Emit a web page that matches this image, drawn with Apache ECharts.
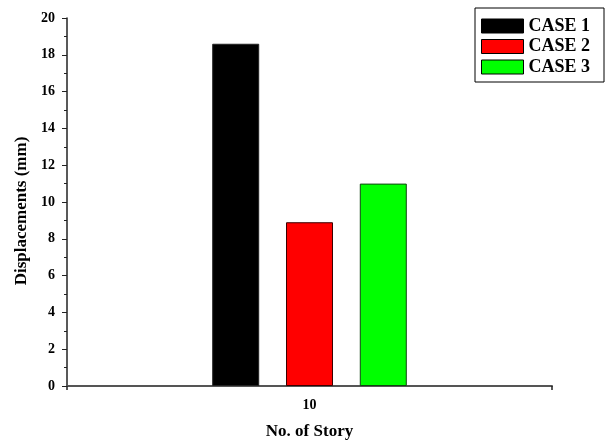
<!DOCTYPE html>
<html>
<head>
<meta charset="utf-8">
<script src="https://cdn.jsdelivr.net/npm/echarts@6/dist/echarts.min.js"></script>
<style>html,body{margin:0;padding:0;background:#fff}#c{width:607px;height:443px}</style>
</head>
<body>
<div id="c"></div>
<script>
const categories = ['10'];
const seriesNames = ['CASE 1', 'CASE 2', 'CASE 3'];
const case1 = [18.6];
const case2 = [8.9];
const case3 = [11.0];
const yTicks = [0, 2, 4, 6, 8, 10, 12, 14, 16, 18, 20];
const colors = ['#000000', '#ff0000', '#00ff00'];
const borders = ['#222222', '#3a0000', '#114411'];

const FONT = '"Times New Roman", "Liberation Serif", serif';
const chart = echarts.init(document.getElementById('c'), null, {renderer: 'canvas'});
const values = [case1, case2, case3];
chart.setOption({
  animation: false,
  backgroundColor: '#fff',
  grid: {left: 67, right: 55, top: 18, bottom: 57, containLabel: false, outerBoundsMode: 'none'},
  legend: {
    orient: 'vertical',
    left: 475, top: 8,
    padding: [9, 14, 6, 6],
    borderColor: '#000', borderWidth: 1,
    itemWidth: 42, itemHeight: 14, itemGap: 2.5, itemTextGap: 7,
    icon: 'rect',
    itemStyle: {borderColor: '#000', borderWidth: 1},
    textStyle: {fontFamily: FONT, fontWeight: 'bold', fontSize: 18, color: '#000'},
    data: seriesNames
  },
  xAxis: [{
    type: 'category',
    data: categories,
    name: 'No. of Story',
    nameLocation: 'middle',
    nameGap: 37,
    nameTextStyle: {fontFamily: FONT, fontWeight: 'bold', fontSize: 17, color: '#000'},
    axisLine: {lineStyle: {color: '#555', width: 2}},
    axisTick: {alignWithLabel: true, length: 5, lineStyle: {color: '#333', width: 1.5}},
    axisLabel: {fontFamily: FONT, fontWeight: 'bold', fontSize: 14, color: '#000', margin: 12},
    splitLine: {show: false}
  }, {
    type: 'category',
    data: categories,
    position: 'bottom',
    axisLine: {show: false},
    axisTick: {show: true, length: 4, lineStyle: {color: '#222', width: 1.5}},
    axisLabel: {show: false},
    splitLine: {show: false}
  }],
  yAxis: {
    type: 'value',
    min: yTicks[0], max: yTicks[yTicks.length - 1], interval: yTicks[1] - yTicks[0],
    name: 'Displacements (mm)',
    nameLocation: 'middle',
    nameGap: 37,
    nameRotate: 90,
    nameTextStyle: {fontFamily: FONT, fontWeight: 'bold', fontSize: 17, color: '#000', padding: [0, 18, 0, 0]},
    axisLine: {show: true, lineStyle: {color: '#222', width: 1.5}},
    axisTick: {show: true, inside: false, length: 5, lineStyle: {color: '#222', width: 1}},
    minorTick: {show: true, splitNumber: 2, length: 3, lineStyle: {color: '#222', width: 1}},
    axisLabel: {fontFamily: FONT, fontWeight: 'bold', fontSize: 14, color: '#000', margin: 12},
    splitLine: {show: false}
  },
  series: seriesNames.map((n, i) => ({
    name: n,
    type: 'bar',
    xAxisIndex: 0,
    data: values[i],
    barWidth: 47,
    barGap: '57%',
    itemStyle: {color: colors[i], borderColor: borders[i], borderWidth: 1}
  }))
});
</script>
</body>
</html>
